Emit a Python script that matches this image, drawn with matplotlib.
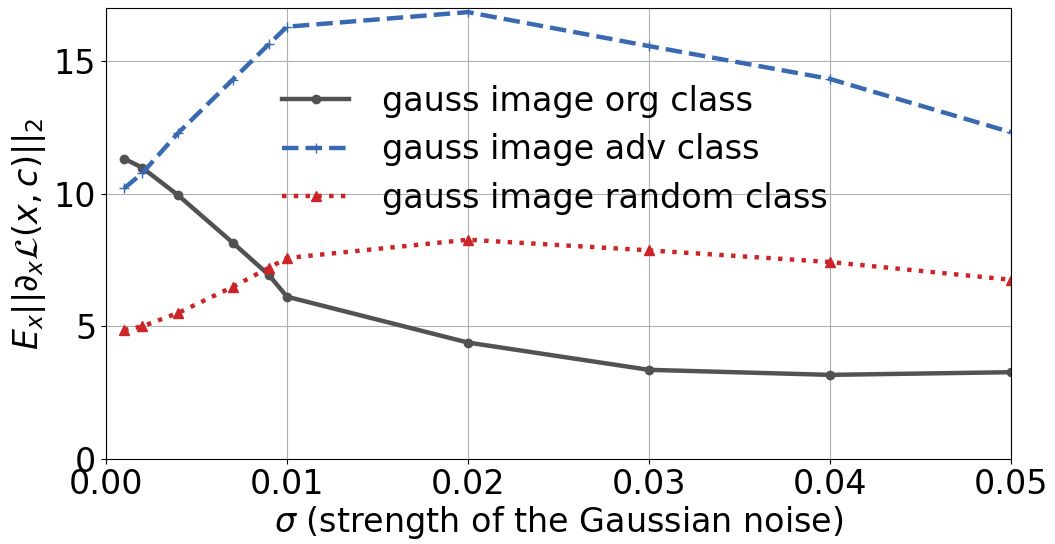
import matplotlib
matplotlib.use("Agg")
import matplotlib.pyplot as plt

# noise strength sigma
sigma = [0.001, 0.002, 0.004, 0.007, 0.009, 0.01, 0.02, 0.03, 0.04, 0.05]

# E_x ||d_x L(x, c)||_2 per class
org_class = [11.32, 10.98, 9.93, 8.15, 6.93, 6.11, 4.38, 3.35, 3.16, 3.26]
adv_class = [10.2, 10.77, 12.3, 14.3, 15.64, 16.3, 16.85, 15.57, 14.33, 12.32]
random_class = [4.85, 4.99, 5.5, 6.48, 7.2, 7.57, 8.26, 7.86, 7.42, 6.75]

xticks = [0.00, 0.01, 0.02, 0.03, 0.04, 0.05]
yticks = [0, 5, 10, 15]

GRAY = "#535154"
BLUE = "#396AB1"
RED = "#CC2529"

fig = plt.figure(figsize=(10.55, 5.44), dpi=100)
ax = fig.add_axes([0.1005, 0.157, 0.8575, 0.828])

ax.plot(sigma, org_class, color=GRAY, linewidth=3.2, linestyle="-",
        marker="o", markersize=6, label="gauss image org class")
ax.plot(sigma, adv_class, color=BLUE, linewidth=3.2, linestyle="--",
        marker="+", markersize=7, label="gauss image adv class")
ax.plot(sigma, random_class, color=RED, linewidth=3.2, linestyle=":",
        marker="^", markersize=7, label="gauss image random class")

ax.set_xlim(0, 0.05)
ax.set_ylim(0, 17)
ax.set_xticks(xticks)
ax.set_xticklabels([f"{v:.2f}" for v in xticks])
ax.set_yticks(yticks)
ax.tick_params(labelsize=24)
ax.grid(True, color="#b0b0b0", linewidth=0.8)

ax.set_xlabel(r"$\sigma$ (strength of the Gaussian noise)", fontsize=24, labelpad=2)
ax.set_ylabel(r"$E_x||\partial_x \mathcal{L}(x,c)||_2$", fontsize=24, labelpad=4)

ax.legend(loc="upper left", bbox_to_anchor=(0.18, 0.86), frameon=False,
          fontsize=24, handlelength=2.0, handletextpad=1.0,
          labelspacing=0.47, borderaxespad=0)

fig.savefig("out.png", dpi=100, facecolor="white")
